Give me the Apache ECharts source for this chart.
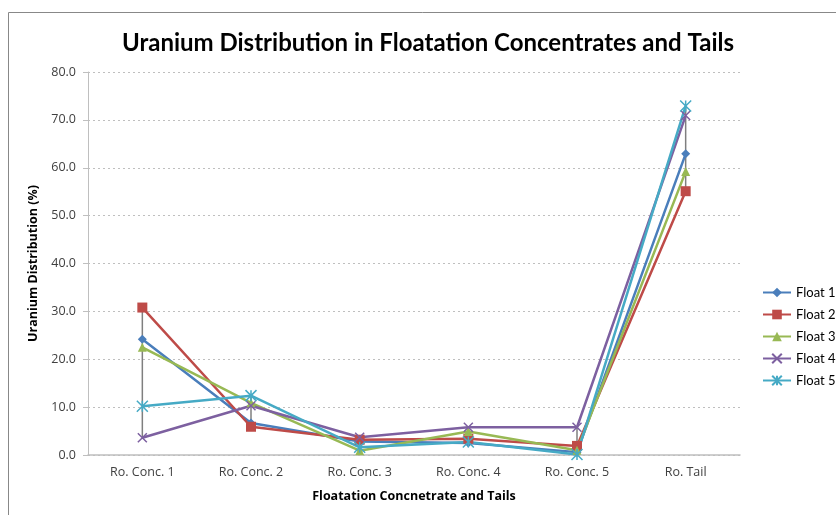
<!DOCTYPE html>
<html><head><meta charset="utf-8">
<script src="https://cdn.jsdelivr.net/npm/echarts@6/dist/echarts.min.js"></script>
<style>html,body{margin:0;padding:0;background:#fff}#c{width:836px;height:515px}</style>
</head><body><div id="c"></div>
<script>
const categories = ['Ro. Conc. 1','Ro. Conc. 2','Ro. Conc. 3','Ro. Conc. 4','Ro. Conc. 5','Ro. Tail'];
const float1 = [24.2, 6.7, 2.8, 2.5, 0.6, 62.9];
const float2 = [30.8, 5.9, 3.2, 3.4, 1.9, 55.1];
const float3 = [22.5, 10.9, 0.9, 4.9, 1.0, 59.2];
const float4 = [3.6, 10.3, 3.7, 5.8, 5.8, 70.9];
const float5 = [10.2, 12.4, 1.6, 2.7, 0.1, 72.9];
const seriesNames = ['Float 1','Float 2','Float 3','Float 4','Float 5'];
const yTicks = [0, 10, 20, 30, 40, 50, 60, 70, 80];

const all = [float1, float2, float3, float4, float5];
const colors = ['#4A7EBB','#BE4B48','#98B954','#7D60A0','#46AAC5'];
const xPath = 'path://M0,0L10,10M10,0L0,10';
const starPath = 'path://M0,0L10,10M10,0L0,10M5,0L5,10';
const symbols = ['diamond','rect','triangle',xPath,starPath];
const sizes = [9,10,9,9,11];
const hl = categories.map((c,i)=>{const v=all.map(a=>a[i]);return [i, Math.min(...v), Math.max(...v)];});

const chart = echarts.init(document.getElementById('c'), null, {renderer:'canvas'});
const font = 'Open Sans, Liberation Sans, sans-serif';
chart.setOption({
  animation:false,
  textStyle:{fontFamily:font},
  title:{text:'Uranium Distribution in Floatation Concentrates and Tails',left:423,top:26,textAlign:'center',
    textStyle:{fontFamily:'Lato, Open Sans, sans-serif',fontSize:24,fontWeight:'bold',color:'#000'}},
  graphic:[{type:'rect',shape:{x:8.5,y:12.5,width:840,height:520},style:{fill:null,stroke:'#888',lineWidth:1},silent:true}],
  legend:{orient:'vertical',left:762,top:286,padding:0,itemGap:9,itemWidth:28,itemHeight:12,
    data:seriesNames,textStyle:{fontSize:13,color:'#000',fontFamily:'Lato, sans-serif',overflow:'none'}},
  grid:{left:88,right:96,top:72,bottom:60},
  xAxis:{type:'category',data:categories,boundaryGap:true,
    axisLine:{lineStyle:{color:'#BFBFBF',width:1.5}},axisTick:{show:false},
    axisLabel:{color:'#404040',fontSize:12.5,margin:11},
    name:'Floatation Concnetrate and Tails',nameLocation:'middle',nameGap:35,
    nameTextStyle:{fontWeight:'bold',fontSize:12.5,color:'#000'}},
  yAxis:{type:'value',min:0,max:80,interval:10,
    axisLine:{show:true,lineStyle:{color:'#BFBFBF'}},axisTick:{show:true,length:5,lineStyle:{color:'#BFBFBF'}},
    axisLabel:{color:'#404040',fontSize:12.5,margin:12,formatter:v=>yTicks.includes(v)?v.toFixed(1):''},
    splitLine:{lineStyle:{color:'#BFBFBF',type:[2,3]}},
    name:'Uranium Distribution (%)',nameLocation:'middle',nameGap:48,nameRotate:90,
    nameTextStyle:{fontWeight:'bold',fontSize:12.5,color:'#000'}},
  series:[
    {type:'custom',name:'hl',data:hl,silent:true,z:1,
      renderItem:(params,api)=>{const a=api.coord([api.value(0),api.value(1)]);const b=api.coord([api.value(0),api.value(2)]);
        return {type:'line',shape:{x1:a[0],y1:a[1],x2:b[0],y2:b[1]},style:{stroke:'#7F7F7F',lineWidth:1.5}};}},
    ...all.map((d,k)=>({type:'line',name:seriesNames[k],data:d,z:3,
      symbol:symbols[k],symbolSize:sizes[k],showAllSymbol:true,
      lineStyle:{color:colors[k],width:2.5},
      itemStyle:{color:colors[k],borderColor:colors[k],borderWidth:k>=3?1.5:0}}))
  ]
});
</script></body></html>
